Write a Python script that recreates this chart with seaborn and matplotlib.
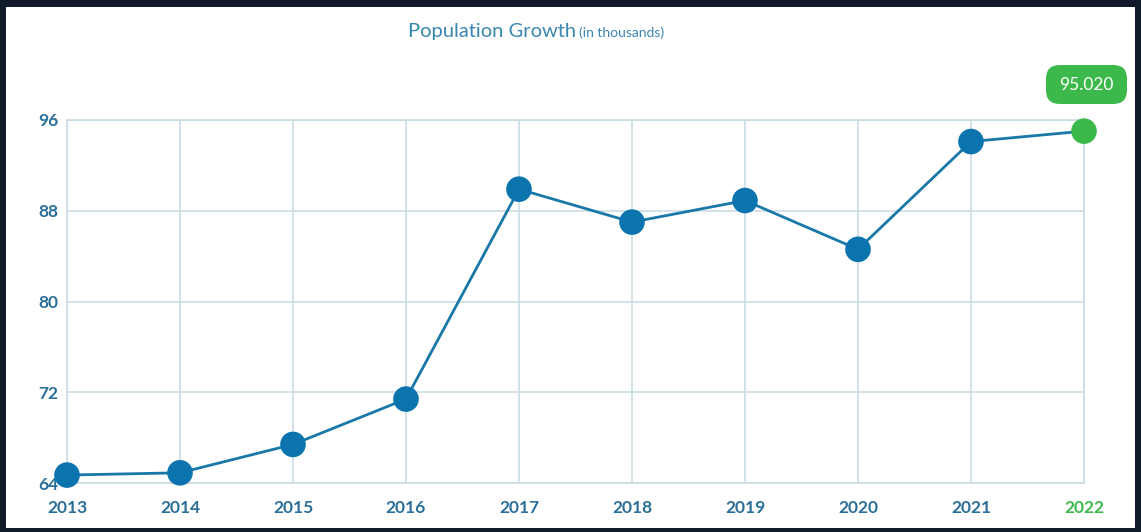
import matplotlib
matplotlib.use("Agg")
import matplotlib.pyplot as plt
import seaborn as sns
import pandas as pd
from matplotlib.patches import FancyBboxPatch, Rectangle

years = ["2013", "2014", "2015", "2016", "2017", "2018", "2019", "2020", "2021", "2022"]
population = [64.7, 64.9, 67.4, 71.4, 89.9, 87.0, 88.9, 84.6, 94.1, 95.02]
y_ticks = [64, 72, 80, 88, 96]
highlight_label = "95.020"

sns.set_theme(style="white")
plt.rcParams["font.family"] = ["Lato", "DejaVu Sans"]

BLUE = "#0b73ad"
LINE = "#1878a8"
GREEN = "#3db94b"
GRID = "#c9dde4"
TICK = "#2a6f99"

df = pd.DataFrame({"year": years, "pop": population, "idx": range(len(years))})

fig = plt.figure(figsize=(11.41, 5.32), dpi=100)
fig.patch.set_facecolor("#111a2b")
bg = Rectangle((6/1141, 1-528/532), (1135-6)/1141, (528-7)/532,
               transform=fig.transFigure, facecolor="white",
               edgecolor="none", zorder=-10)
fig.patches.append(bg)

ax = fig.add_axes([67/1141, 1-483/532, (1084-67)/1141, (483-120)/532])
ax.set_facecolor("white")
ax.set_zorder(1)

sns.lineplot(data=df, x="idx", y="pop", ax=ax, color=LINE, linewidth=2, zorder=3)
main = df.iloc[:-1]
last = df.iloc[-1:]
sns.scatterplot(data=main, x="idx", y="pop", ax=ax, color=BLUE, s=340,
                edgecolor="none", zorder=4, clip_on=False)
sns.scatterplot(data=last, x="idx", y="pop", ax=ax, color=GREEN, s=340,
                edgecolor="none", zorder=4, clip_on=False)
for c in ax.collections:
    c.set_clip_on(False)

ax.set_xlim(0, len(years) - 1)
ax.set_ylim(y_ticks[0], y_ticks[-1])
ax.set_xticks(range(len(years)))
ax.set_xticklabels(years)
ax.set_yticks(y_ticks)
ax.set_yticklabels([str(t) for t in y_ticks])
ax.grid(True, color=GRID, linewidth=1.2)
for s in ax.spines.values():
    s.set_visible(True)
    s.set_color(GRID)
    s.set_linewidth(1.2)
ax.set_xlabel("")
ax.set_ylabel("")
ax.tick_params(axis="both", length=0, labelsize=12.5, colors=TICK)
ax.tick_params(axis="x", pad=12)
ax.tick_params(axis="y", pad=6)
for lbl in ax.get_xticklabels() + ax.get_yticklabels():
    lbl.set_fontweight("bold")
ax.get_xticklabels()[-1].set_color(GREEN)

# title
fig.text(408/1141, 1 - 31/532, "Population Growth", ha="left", va="center",
         fontsize=14.5, color="#3a86b0")
fig.text(579/1141, 1 - 33/532, "(in thousands)", ha="left", va="center",
         fontsize=10, color="#3a86b0")

# tooltip
bx0, by0, bx1, by1 = 1046, 65, 1127, 104
box = FancyBboxPatch((bx0/1141, 1-by1/532), (bx1-bx0)/1141, (by1-by0)/532,
                     boxstyle="round,pad=0,rounding_size=0.012",
                     transform=fig.transFigure, facecolor=GREEN, edgecolor="none",
                     mutation_aspect=1141/532, zorder=5)
fig.patches.append(box)
fig.text((bx0+bx1)/2/1141, 1-(by0+by1)/2/532, highlight_label, ha="center",
         va="center", color="white", fontsize=12.5, zorder=6)

fig.savefig("out.png", dpi=100, facecolor=fig.get_facecolor())
